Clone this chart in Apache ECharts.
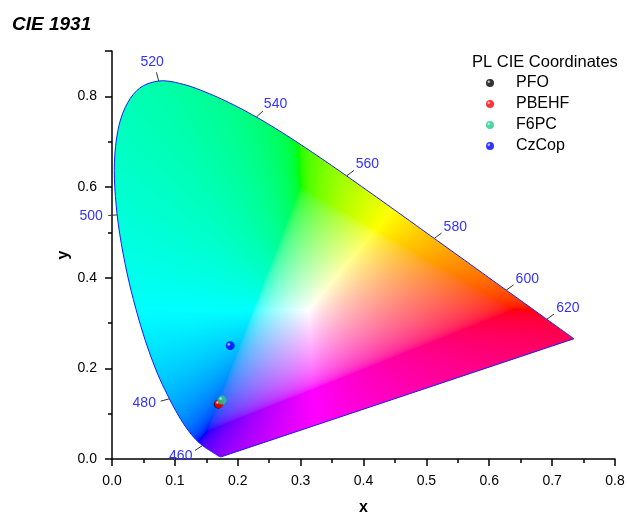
<!DOCTYPE html>
<html>
<head>
<meta charset="utf-8">
<script src="https://cdn.jsdelivr.net/npm/echarts@6/dist/echarts.min.js"></script>
<style>
  html, body { margin: 0; padding: 0; background: #fff; }
  #main { width: 627px; height: 516px; }
</style>
</head>
<body>
<div id="main"></div>
<script>
// CIE 1931 2° spectral locus, 380-700 nm in 5 nm steps
const wavelengths = [380, 385, 390, 395, 400, 405, 410, 415, 420, 425, 430, 435, 440, 445, 450, 455,
  460, 465, 470, 475, 480, 485, 490, 495, 500, 505, 510, 515, 520, 525, 530, 535,
  540, 545, 550, 555, 560, 565, 570, 575, 580, 585, 590, 595, 600, 605, 610, 615,
  620, 625, 630, 635, 640, 645, 650, 655, 660, 665, 670, 675, 680, 685, 690, 695, 700];
const locusX = [0.1741, 0.1740, 0.1738, 0.1736, 0.1733, 0.1730, 0.1726, 0.1721,
  0.1714, 0.1703, 0.1689, 0.1669, 0.1644, 0.1611, 0.1566, 0.1510,
  0.1440, 0.1355, 0.1241, 0.1096, 0.0913, 0.0687, 0.0454, 0.0235,
  0.0082, 0.0039, 0.0139, 0.0389, 0.0743, 0.1142, 0.1547, 0.1929,
  0.2296, 0.2658, 0.3016, 0.3373, 0.3731, 0.4087, 0.4441, 0.4788,
  0.5125, 0.5448, 0.5752, 0.6029, 0.6270, 0.6482, 0.6658, 0.6801,
  0.6915, 0.7006, 0.7079, 0.7140, 0.7190, 0.7230, 0.7260, 0.7283,
  0.7300, 0.7311, 0.7320, 0.7327, 0.7334, 0.7340, 0.7344, 0.7346, 0.7347];
const locusY = [0.0050, 0.0050, 0.0049, 0.0049, 0.0048, 0.0048, 0.0048, 0.0048,
  0.0051, 0.0058, 0.0069, 0.0086, 0.0109, 0.0138, 0.0177, 0.0227,
  0.0297, 0.0399, 0.0578, 0.0868, 0.1327, 0.2007, 0.2950, 0.4127,
  0.5384, 0.6548, 0.7502, 0.8120, 0.8338, 0.8262, 0.8059, 0.7816,
  0.7543, 0.7243, 0.6923, 0.6589, 0.6245, 0.5896, 0.5547, 0.5202,
  0.4866, 0.4544, 0.4242, 0.3965, 0.3725, 0.3514, 0.3340, 0.3197,
  0.3083, 0.2993, 0.2920, 0.2859, 0.2809, 0.2770, 0.2740, 0.2717,
  0.2700, 0.2689, 0.2680, 0.2673, 0.2666, 0.2660, 0.2656, 0.2654, 0.2653];
const markedWavelengths = [460, 480, 500, 520, 540, 560, 580, 600, 620];

// measured PL coordinates
const sampleNames = ['PFO', 'PBEHF', 'F6PC', 'CzCop'];
const sampleX = [0.169, 0.170, 0.175, 0.188];
const sampleY = [0.121, 0.122, 0.130, 0.250];
const sampleColors = ['#000000', '#ff0000', '#22cc88', '#0000ff'];

const FONT = '"Liberation Sans", Arial, sans-serif';

// xy chromaticity -> displayable sRGB (desaturate out-of-gamut, normalise brightness)
function xyToRgb(x, y) {
  const X = x / y, Z = (1 - x - y) / y;
  let r = 3.2406 * X - 1.5372 - 0.4986 * Z;
  let g = -0.9689 * X + 1.8758 + 0.0415 * Z;
  let b = 0.0557 * X - 0.2040 + 1.0570 * Z;
  const mn = Math.min(r, g, b);
  if (mn < 0) { r -= mn; g -= mn; b -= mn; }
  const mx = Math.max(r, g, b);
  if (mx <= 0) return [255, 255, 255];
  const gam = c => {
    c = c / mx;
    c = c <= 0.0031308 ? 12.92 * c : 1.055 * Math.pow(c, 1 / 2.4) - 0.055;
    return Math.round(Math.max(0, Math.min(1, c)) * 255);
  };
  return [gam(r), gam(g), gam(b)];
}

let gamutCache = null;
function gamutImage(api) {
  const w = api.getWidth(), h = api.getHeight();
  const o = api.coord([0, 0]), e = api.coord([1, 1]);
  const key = [w, h, o, e].join(',');
  if (gamutCache && gamutCache.key === key) return gamutCache.canvas;
  const cv = document.createElement('canvas');
  cv.width = w; cv.height = h;
  const ctx = cv.getContext('2d');
  const img = ctx.createImageData(w, h);
  const sx = e[0] - o[0], sy = e[1] - o[1];
  for (let py = 0; py < h; py++) {
    for (let px = 0; px < w; px++) {
      const x = (px + 0.5 - o[0]) / sx;
      const y = (py + 0.5 - o[1]) / sy;
      if (y < 0.002 || x < -0.01 || x > 0.8) continue;
      const c = xyToRgb(x, y);
      const i = (py * w + px) * 4;
      img.data[i] = c[0]; img.data[i + 1] = c[1]; img.data[i + 2] = c[2]; img.data[i + 3] = 255;
    }
  }
  ctx.putImageData(img, 0, 0);
  gamutCache = { key: key, canvas: cv };
  return cv;
}

// catmull-rom through the projected locus so the outline is drawn smooth
function smoothOutline(pts) {
  const out = [];
  const n = pts.length;
  for (let i = 0; i < n - 1; i++) {
    const p0 = pts[Math.max(i - 1, 0)], p1 = pts[i], p2 = pts[i + 1], p3 = pts[Math.min(i + 2, n - 1)];
    const steps = 6;
    for (let s = 0; s < steps; s++) {
      const t = s / steps, t2 = t * t, t3 = t2 * t;
      out.push([0, 1].map(j => 0.5 * (2 * p1[j] + (-p0[j] + p2[j]) * t +
        (2 * p0[j] - 5 * p1[j] + 4 * p2[j] - p3[j]) * t2 +
        (-p0[j] + 3 * p1[j] - 3 * p2[j] + p3[j]) * t3)));
    }
  }
  out.push(pts[n - 1]);
  return out;
}

function renderGamut(params, api) {
  const pts = smoothOutline(locusX.map((x, i) => api.coord([x, locusY[i]])));
  return {
    type: 'polygon',
    shape: { points: pts },
    style: {
      fill: { image: gamutImage(api), repeat: 'no-repeat' },
      stroke: '#1a1aff',
      lineWidth: 1
    },
    silent: true
  };
}

function renderWavelength(params, api) {
  const wl = api.value(2);
  const k = wavelengths.indexOf(wl);
  const p = api.coord([locusX[k], locusY[k]]);
  let nx = locusY[k + 1] - locusY[k - 1];
  let ny = -(locusX[k + 1] - locusX[k - 1]);
  if (nx * (locusX[k] - 0.333) + ny * (locusY[k] - 0.333) < 0) { nx = -nx; ny = -ny; }
  const q = api.coord([locusX[k] + nx, locusY[k] + ny]);
  let dx = q[0] - p[0], dy = q[1] - p[1];
  const len = Math.hypot(dx, dy);
  dx /= len; dy /= len;
  const tick = 9, gap = 4;
  const ex = p[0] + dx * tick, ey = p[1] + dy * tick;
  const cx = ex + dx * (gap + 13), cy = ey + dy * (gap + 6);
  return {
    type: 'group',
    children: [
      {
        type: 'line',
        shape: { x1: p[0], y1: p[1], x2: ex, y2: ey },
        style: { stroke: '#333', lineWidth: 1 }
      },
      {
        type: 'text',
        x: cx, y: cy,
        style: {
          text: String(wl), fill: '#3333ff', fontSize: 14, fontFamily: FONT,
          align: 'center', verticalAlign: 'middle'
        }
      }
    ]
  };
}

function sphere(c) {
  return {
    type: 'radial', x: 0.35, y: 0.35, r: 0.75,
    colorStops: [
      { offset: 0, color: '#ffffff' },
      { offset: 0.3, color: c },
      { offset: 1, color: c }
    ]
  };
}

const chart = echarts.init(document.getElementById('main'));

const option = {
  animation: false,
  backgroundColor: '#fff',
  title: [
    {
      text: 'CIE 1931', left: 7, top: 10,
      textStyle: { fontSize: 19, fontWeight: 'bold', fontStyle: 'italic', fontFamily: FONT, color: '#000' }
    },
    {
      text: 'PL CIE Coordinates', left: 467, top: 49,
      textStyle: { fontSize: 16.5, fontWeight: 'normal', fontFamily: FONT, color: '#000' }
    }
  ],
  legend: {
    orient: 'vertical', left: 486, top: 75,
    itemWidth: 8, itemHeight: 8, itemGap: 5, padding: 0,
    icon: 'circle',
    textStyle: { fontSize: 16, fontFamily: FONT, color: '#000', padding: [0, 0, 0, 17] },
    data: sampleNames
  },
  grid: { left: 112, right: 12, top: 51, bottom: 57, containLabel: false, outerBoundsMode: 'none' },
  xAxis: {
    type: 'value', min: 0, max: 0.8, interval: 0.1,
    name: 'x', nameLocation: 'middle', nameGap: 41, nameMoveOverlap: false,
    nameTextStyle: { fontSize: 16, fontWeight: 'bold', fontFamily: FONT, color: '#000' },
    axisLine: { onZero: false, lineStyle: { color: '#000', width: 1.5 } },
    axisTick: { show: true, inside: false, length: 7, lineStyle: { color: '#000', width: 1.5 } },
    minorTick: { show: true, splitNumber: 2, length: 4, lineStyle: { color: '#000', width: 1.5 } },
    axisLabel: { fontSize: 14, fontFamily: FONT, color: '#000', margin: 15, formatter: v => v.toFixed(1) },
    splitLine: { show: false }
  },
  yAxis: {
    type: 'value', min: 0, max: 0.9, interval: 0.2,
    name: 'y', nameLocation: 'middle', nameGap: 40, nameRotate: 90, nameMoveOverlap: false,
    nameTextStyle: { fontSize: 16, fontWeight: 'bold', fontFamily: FONT, color: '#000' },
    axisLine: { onZero: false, lineStyle: { color: '#000', width: 1.5 } },
    axisTick: { show: true, inside: false, length: 7, lineStyle: { color: '#000', width: 1.5 } },
    minorTick: { show: true, splitNumber: 2, length: 4, lineStyle: { color: '#000', width: 1.5 } },
    axisLabel: {
      fontSize: 14, fontFamily: FONT, color: '#000', margin: 15,
      formatter: v => (v > 0.85 ? '' : v.toFixed(1))
    },
    splitLine: { show: false }
  },
  series: [
    {
      type: 'custom', name: 'locus', renderItem: renderGamut,
      data: [[0, 0]], clip: false, silent: true, z: 1
    },
    {
      type: 'custom', name: 'wavelengths', renderItem: renderWavelength,
      data: markedWavelengths.map(w => {
        const k = wavelengths.indexOf(w);
        return [locusX[k], locusY[k], w];
      }),
      clip: false, silent: true, z: 2
    }
  ].concat(sampleNames.map((n, i) => ({
    type: 'scatter', name: n,
    data: [[sampleX[i], sampleY[i]]],
    symbolSize: 9,
    itemStyle: { color: sphere(sampleColors[i]) },
    z: 3 + i
  })))
};

chart.setOption(option);
</script>
</body>
</html>
